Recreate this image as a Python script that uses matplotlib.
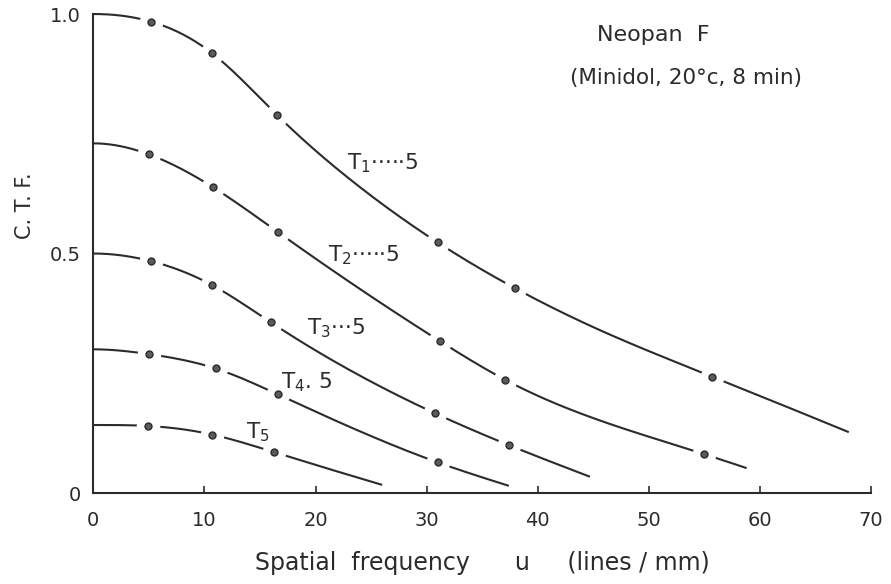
import numpy as np
import matplotlib
matplotlib.use("Agg")
import matplotlib.pyplot as plt

# ---- values ----------------------------------------------------------------
# measured points (the dots) for each exposure curve
t1_u = [5.2, 10.7, 16.5, 31.0, 38.0, 55.7]
t1_c = [0.984, 0.918, 0.790, 0.523, 0.427, 0.243]
t2_u = [5.0, 10.8, 16.6, 31.2, 37.1, 55.0]
t2_c = [0.707, 0.638, 0.545, 0.317, 0.236, 0.081]
t3_u = [5.2, 10.7, 16.0, 30.8, 37.4]
t3_c = [0.484, 0.434, 0.356, 0.166, 0.100]
t45_u = [5.0, 11.0, 16.6, 31.0]
t45_c = [0.290, 0.260, 0.206, 0.064]
t5_u = [4.9, 10.7, 16.3]
t5_c = [0.140, 0.122, 0.085]

# where each drawn curve starts (u=0) and ends
start_c = [1.00, 0.73, 0.50, 0.30, 0.142]
end_u = [68.0, 58.8, 44.7, 37.4, 26.0]
end_c = [0.127, 0.052, 0.034, 0.015, 0.017]
# extra traced points on the long unmarked stretches
extra = [[(23.1, 0.655), (45.6, 0.340)], [(23.1, 0.440)], [], [], []]

curve_labels = ["T$_{1}$·····5", "T$_{2}$·····5", "T$_{3}$···5", "T$_{4}$. 5", "T$_{5}$"]
label_pos = [(22.8, 0.689), (21.1, 0.497), (19.2, 0.344), (16.9, 0.232), (13.7, 0.127)]

xticks = [0, 10, 20, 30, 40, 50, 60, 70]
yticks = [0, 0.5, 1.0]
yticklabels = ["0", "0.5", "1.0"]

INK = "#2b2b2b"


def smooth(xs, ys, n=40):
    # cubic spline through the traced knots: flat at u=0, free at the far end
    xs = np.asarray(xs, float)
    ys = np.asarray(ys, float)
    N = len(xs)
    h = np.diff(xs)
    d = np.diff(ys) / h
    A = np.zeros((N, N))
    b = np.zeros(N)
    A[0, 0] = 2 * h[0]
    A[0, 1] = h[0]
    b[0] = 6 * (d[0] - 0.0)
    for i in range(1, N - 1):
        A[i, i - 1] = h[i - 1]
        A[i, i] = 2 * (h[i - 1] + h[i])
        A[i, i + 1] = h[i]
        b[i] = 6 * (d[i] - d[i - 1])
    A[-1, -1] = 1.0
    M = np.linalg.solve(A, b)
    ox, oy = [], []
    for i in range(N - 1):
        x = np.linspace(xs[i], xs[i + 1], n, endpoint=False)
        a = xs[i + 1] - x
        c = x - xs[i]
        y = (M[i] * a**3 + M[i + 1] * c**3) / (6 * h[i]) \
            + (ys[i] / h[i] - M[i] * h[i] / 6) * a + (ys[i + 1] / h[i] - M[i + 1] * h[i] / 6) * c
        ox.extend(x)
        oy.extend(y)
    ox.append(xs[-1])
    oy.append(ys[-1])
    return ox, oy


fig = plt.figure(figsize=(8.91, 5.84), dpi=100)
ax = fig.add_axes([0.1047, 0.1558, 0.8729, 0.8202])

series = [(t1_u, t1_c), (t2_u, t2_c), (t3_u, t3_c), (t45_u, t45_c), (t5_u, t5_c)]
for i, (u, c) in enumerate(series):
    knots = [(0.0, start_c[i])] + list(zip(u, c)) + extra[i] + [(end_u[i], end_c[i])]
    knots.sort()
    kx = [k[0] for k in knots]
    ky = [k[1] for k in knots]
    sx, sy = smooth(kx, ky)
    ax.plot(sx, sy, color=INK, lw=1.5, clip_on=False, zorder=2, solid_capstyle="butt")
    # dots with a white halo, which makes the gaps in the line
    ax.plot(u, c, "o", ms=17, mfc="white", mew=0, zorder=3, clip_on=False)
    ax.plot(u, c, "o", ms=5, mfc="#5a5a5a", mec=INK, mew=1.0, zorder=4, clip_on=False)
    ax.text(label_pos[i][0], label_pos[i][1], curve_labels[i], fontsize=15.5, color=INK,
            ha="left", va="center")

ax.set_xlim(0, 70)
ax.set_ylim(0, 1.0)
for s in ["top", "right"]:
    ax.spines[s].set_visible(False)
for s in ["left", "bottom"]:
    ax.spines[s].set_linewidth(1.5)
    ax.spines[s].set_color(INK)

ax.set_xticks(xticks)
ax.set_xticklabels([str(x) for x in xticks])
ax.tick_params(axis="x", direction="in", length=5, width=1.2, color=INK, pad=13,
               labelsize=14, labelcolor=INK)
ax.set_yticks(yticks)
ax.set_yticklabels(yticklabels)
ax.tick_params(axis="y", length=0, pad=9, labelsize=14, labelcolor=INK)

ax.set_xlabel("Spatial  frequency      u     (lines / mm)", fontsize=17, color=INK, labelpad=15)
ax.set_ylabel("C. T. F.", fontsize=15, color=INK)
ax.yaxis.set_label_coords(-0.075, 0.60)

fig.text(0.733, 0.940, "Neopan  F", fontsize=16, color=INK, ha="center", va="center")
fig.text(0.77, 0.866, "(Minidol, 20°c, 8 min)", fontsize=15.5, color=INK, ha="center", va="center")

fig.savefig("out.png", dpi=100, facecolor="white")
